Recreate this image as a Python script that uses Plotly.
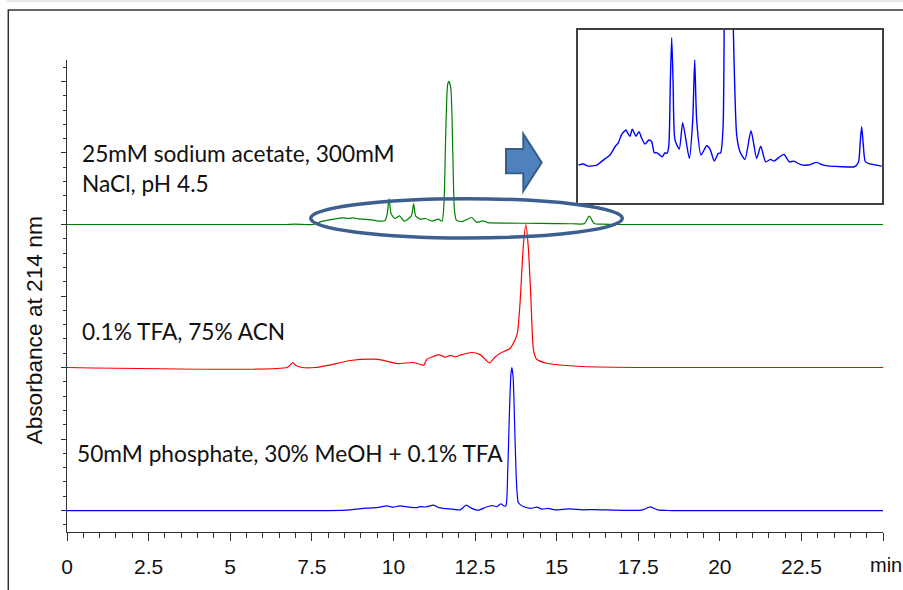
import plotly.graph_objects as go

# ---------------- data ----------------
# time in minutes, absorbance in relative units (baseline = 0)
green_time = [0, 6.7, 6.95, 7.3, 7.55, 7.76, 8.17, 8.47, 8.63, 8.78, 8.93, 9.09, 9.34, 9.55, 9.75,
              9.81, 9.87, 9.93, 10.05, 10.19, 10.33, 10.55, 10.62, 10.68, 10.82, 10.98, 11.18, 11.38,
              11.49, 11.55, 11.6, 11.66, 11.7, 11.76, 11.82, 11.87, 11.93, 12.1, 12.4, 12.55, 12.74,
              12.9, 13.5, 14.5, 15.5, 15.85, 16.0, 16.15, 16.4, 17, 25]
green_abs = [0, 0, 0.004, 0, 0, 0.036, 0.074, 0.092, 0.084, 0.092, 0.078, 0.074, 0.064, 0.046, 0.06,
             0.15, 0.357, 0.15, 0.084, 0.12, 0.046, 0.12, 0.29, 0.12, 0.074, 0.084, 0.046, 0.074,
             0.046, 0.3, 1.2, 1.95, 2.0, 1.9, 1.0, 0.2, 0.06, 0.04, 0.098, 0.03, 0.05,
             0.025, 0.02, 0.015, 0.01, 0.012, 0.116, 0.015, 0.005, 0, 0]

red_time = [0, 6.74, 6.85, 6.92, 7.0, 7.2, 7.6, 8.0, 8.68, 9.38, 9.7, 10.1, 10.6, 10.85, 10.93,
            11.03, 11.2, 11.38, 11.59, 11.74, 11.89, 12.1, 12.4, 12.66, 12.94, 13.1, 13.27, 13.58,
            13.73, 13.8, 13.88, 13.98, 14.06, 14.13, 14.21, 14.29, 14.38, 14.44, 14.7, 15.81, 17.9, 25]
red_abs = [0, 0, 0.04, 0.07, 0.03, 0.0, 0.0, 0.03, 0.098, 0.117, 0.1, 0.056, 0.07, 0.04, 0.03,
           0.117, 0.15, 0.18, 0.145, 0.17, 0.15, 0.18, 0.21, 0.18, 0.065, 0.14, 0.2, 0.27,
           0.39, 0.48, 0.9, 1.7, 2.0, 1.7, 1.0, 0.25, 0.12, 0.1, 0.06, 0.014, 0, 0]

blue_time = [0, 8.0, 8.68, 9.0, 9.49, 9.8, 10.0, 10.2, 10.45, 10.7, 10.82, 11.0, 11.23, 11.4, 11.53,
             11.8, 12.05, 12.23, 12.4, 12.6, 12.85, 13.02, 13.17, 13.29, 13.4, 13.45, 13.5, 13.55,
             13.6, 13.63, 13.67, 13.72, 13.77, 13.82, 13.86, 13.98, 14.2, 14.4, 14.55, 14.75, 14.95,
             15.4, 15.8, 16.13, 17.6, 17.87, 18.1, 18.5, 25]
blue_abs = [0, 0, 0.01, 0.028, 0.04, 0.065, 0.047, 0.065, 0.05, 0.04, 0.055, 0.05, 0.075, 0.04, 0.03,
            0.02, 0.01, 0.075, 0.03, 0.005, 0.05, 0.07, 0.056, 0.094, 0.06, 0.07, 0.5, 1.3,
            1.9, 2.0, 1.85, 1.1, 0.4, 0.12, 0.094, 0.056, 0.03, 0.047, 0.02, 0.03, 0.01,
            0.024, 0.01, 0.014, 0.005, 0.05, 0.01, 0, 0]

trace_offsets = [4, 2, 0]  # vertical stacking of the three chromatograms

# inset: expanded view of the circled region of the acetate/NaCl run
inset_time = [6.8, 6.963, 7.126, 7.4, 7.615, 7.833, 7.996, 8.104, 8.215, 8.355, 8.41, 8.485, 8.56,
              8.68, 8.778, 8.866, 8.974, 9.104, 9.192, 9.277, 9.355, 9.43, 9.538, 9.626, 9.691,
              9.75, 9.80, 9.844, 9.89, 9.95, 10.092, 10.203, 10.418, 10.53, 10.594, 10.66, 10.8,
              10.985, 11.093, 11.233, 11.363, 11.441, 11.52, 11.56, 11.62, 11.70, 11.78, 11.85,
              11.963, 12.07, 12.233, 12.429, 12.615, 12.745, 12.908, 13.07, 13.179, 13.342, 13.505,
              13.677, 13.83, 14.026, 14.297, 14.57, 14.786, 15.385, 15.796, 15.93, 15.99, 16.037,
              16.09, 16.15, 16.252, 16.69]
inset_abs = [0.0, 0.008, -0.008, 0.0, 0.039, 0.079, 0.144, 0.175, 0.241, 0.275, 0.252, 0.226, 0.281,
             0.226, 0.262, 0.21, 0.165, 0.197, 0.183, 0.097, 0.097, 0.084, 0.065, 0.097, 0.092,
             0.15, 0.65, 1.0, 0.65, 0.2, 0.126, 0.333, 0.053, 0.35, 0.825, 0.35, 0.079,
             0.152, 0.126, 0.031, 0.092, 0.097, 0.3, 1.2, 2.0, 2.3, 2.0, 1.1,
             0.236, 0.105, 0.045, 0.27, 0.053, 0.149, 0.026, 0.045, 0.031, 0.061, 0.084,
             0.026, 0.031, 0.006, 0.0, 0.021, 0.0, -0.013, -0.013, 0.02, 0.18, 0.301,
             0.16, 0.03, 0.013, -0.008]

x_tick_vals = [0, 2.5, 5, 7.5, 10, 12.5, 15, 17.5, 20, 22.5, 25]
x_tick_text = ["0", "2.5", "5", "7.5", "10", "12.5", "15", "17.5", "20", "22.5", ""]
y_tick_vals = [0, 1, 2, 3, 4, 5, 6]

labels = ["25mM sodium acetate, 300mM", "NaCl, pH 4.5", "0.1% TFA, 75% ACN",
          "50mM phosphate, 30% MeOH + 0.1% TFA"]
y_title = "Absorbance at 214 nm"
x_unit = "min"

# ---------------- layout geometry (pixels) ----------------
W, H = 903, 590
ML, MR, MT, MB = 67, 20, 30, 58
PW, PH = W - ML - MR, H - MT - MB


def px(x):
    return (x - ML) / PW


def py(y):
    return (H - MB - y) / PH


fig = go.Figure()
line_w = 1.2
for t, a, off, col in [(green_time, green_abs, trace_offsets[0], "#008000"),
                       (red_time, red_abs, trace_offsets[1], "#ff0000"),
                       (blue_time, blue_abs, trace_offsets[2], "#0000ff")]:
    fig.add_trace(go.Scatter(x=t, y=[v + off for v in a], mode="lines",
                             line=dict(color=col, width=line_w, shape="spline", smoothing=0.6),
                             showlegend=False, hoverinfo="skip", xaxis="x", yaxis="y"))

fig.add_trace(go.Scatter(x=inset_time, y=inset_abs, mode="lines",
                         line=dict(color="#0000ff", width=1.4, shape="spline", smoothing=0.6),
                         showlegend=False, hoverinfo="skip", xaxis="x2", yaxis="y2"))

axis_col = "#333333"
main_top = py(60)

fig.update_layout(
    width=W, height=H,
    margin=dict(l=ML, r=MR, t=MT, b=MB, pad=0),
    paper_bgcolor="white", plot_bgcolor="white",
    font=dict(family="Liberation Sans, Arial, sans-serif", color="#111111", size=20),
    xaxis=dict(domain=[0, 1], range=[0, 25], anchor="y",
               showline=True, linecolor=axis_col, linewidth=1.3,
               showgrid=False, zeroline=False,
               tickmode="array", tickvals=x_tick_vals, ticktext=x_tick_text,
               ticks="outside", ticklen=8, tickwidth=1.2, tickcolor=axis_col,
               ticklabelstandoff=8,
               tickfont=dict(family="Liberation Sans, Arial, sans-serif", size=21, color="#111111"),
               minor=dict(ticks="outside", dtick=0.5, tick0=0, ticklen=5, tickwidth=1.1,
                          tickcolor=axis_col, showgrid=False)),
    yaxis=dict(domain=[0, main_top], range=[-0.3, 6.3], anchor="x",
               showline=True, linecolor=axis_col, linewidth=1.3,
               showgrid=False, zeroline=False, showticklabels=False,
               tickmode="array", tickvals=y_tick_vals,
               ticks="outside", ticklen=5, tickwidth=1.2, tickcolor=axis_col,
               minor=dict(ticks="outside", dtick=0.2, tick0=0, ticklen=3, tickwidth=1.1,
                          tickcolor=axis_col, showgrid=False)),
    xaxis2=dict(domain=[px(578.3), px(882)], range=[6.8, 16.7], anchor="y2",
                showline=True, mirror=True, linecolor="#404040", linewidth=1.5,
                showgrid=False, zeroline=False, showticklabels=False, ticks=""),
    yaxis2=dict(domain=[py(203.3), 1.0], range=[-0.3, 1.06], anchor="x2",
                showline=True, mirror=True, linecolor="#404040", linewidth=1.5,
                showgrid=False, zeroline=False, showticklabels=False, ticks=""),
)

text_font = dict(family="Lato, Noto Sans, sans-serif", size=22.7, color="#111111")
annots = [
    dict(text=labels[0], x=px(80), y=py(153)),
    dict(text=labels[1], x=px(80), y=py(184)),
    dict(text=labels[2], x=px(80), y=py(331.7)),
    dict(text=labels[3], x=px(75), y=py(453)),
]
for a in annots:
    fig.add_annotation(xref="paper", yref="paper", xanchor="left", yanchor="middle",
                       showarrow=False, font=text_font, **a)

fig.add_annotation(text=y_title, xref="paper", yref="paper", x=px(33.5), y=py(331),
                   xanchor="center", yanchor="middle", textangle=-90, showarrow=False,
                   font=dict(family="Liberation Sans, Arial, sans-serif", size=22.7, color="#111111"))
fig.add_annotation(text=x_unit, xref="paper", yref="paper", x=px(868), y=py(565),
                   xanchor="left", yanchor="middle", showarrow=False,
                   font=dict(family="Liberation Sans, Arial, sans-serif", size=20, color="#111111"))

# faint line at the very top of the picture
fig.add_shape(type="line", xref="paper", yref="paper",
              x0=px(7), x1=px(903), y0=py(1), y1=py(1),
              line=dict(color="#cfcfcf", width=1.2), layer="below")

# outer frame (extends past the right and bottom edges of the picture)
fig.add_shape(type="rect", xref="paper", yref="paper",
              x0=px(8.3), x1=px(960), y0=py(640), y1=py(10),
              line=dict(color="#333333", width=1.5), fillcolor="rgba(0,0,0,0)", layer="below")

# ellipse highlighting the region shown in the inset
fig.add_shape(type="circle", xref="paper", yref="paper",
              x0=px(310.7), x1=px(622.3), y0=py(238), y1=py(198.7),
              line=dict(color="#3d5f8f", width=3.5), fillcolor="rgba(0,0,0,0)")

# block arrow pointing to the inset
arrow_pts = [(506, 149), (523.3, 149), (523.3, 134), (541.7, 162.5), (523.3, 191),
             (523.3, 173.3), (506, 173.3)]
path = "M " + " L ".join(f"{px(x):.5f},{py(y):.5f}" for x, y in arrow_pts) + " Z"
fig.add_shape(type="path", xref="paper", yref="paper", path=path,
              fillcolor="#4f81bd", line=dict(color="#385d8a", width=2))

fig.write_html("out.html", config={"displayModeBar": False},
               post_script="document.body.style.margin='0';document.body.style.overflow='hidden';")
